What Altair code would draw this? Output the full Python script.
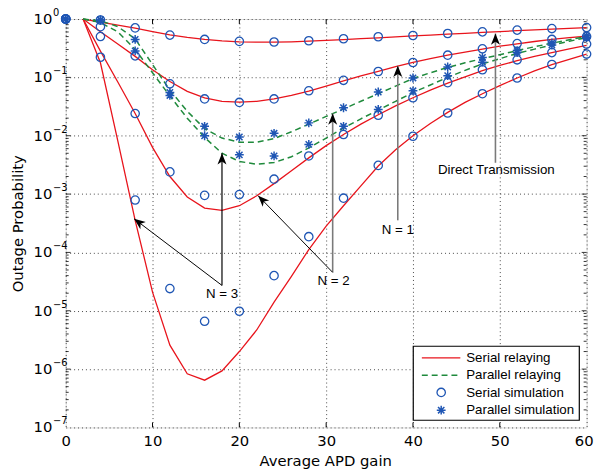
import altair as alt
import pandas as pd

# ---------------- data ----------------
x_line = list(range(2, 61, 2))          # analytic curves
x_sim = list(range(0, 61, 4))           # simulation markers

# serial relaying (analytic)
direct_line = [1, 0.881, 0.785, 0.700, 0.610, 0.537, 0.484, 0.447, 0.422, 0.407,
               0.401, 0.401, 0.407, 0.417, 0.431, 0.445, 0.460, 0.476, 0.494, 0.513,
               0.531, 0.550, 0.569, 0.589, 0.610, 0.631, 0.652, 0.673, 0.692, 0.711]
n1_line = [1, 0.603, 0.372, 0.229, 0.135, 0.0851, 0.0575, 0.0447, 0.0389, 0.0376,
           0.0389, 0.0427, 0.0490, 0.0582, 0.0708, 0.0871, 0.106, 0.127, 0.153, 0.180,
           0.209, 0.240, 0.272, 0.305, 0.343, 0.376, 0.412, 0.447, 0.479, 0.507]
n2_line = [1, 0.282, 0.0832, 0.0240, 6.31e-3, 2.0e-3, 8.91e-4, 5.75e-4, 5.25e-4, 6.31e-4,
           9.33e-4, 1.51e-3, 2.51e-3, 4.17e-3, 6.76e-3, 0.0105, 0.0158, 0.0229, 0.0324, 0.0447,
           0.0603, 0.0794, 0.102, 0.130, 0.160, 0.193, 0.229, 0.266, 0.309, 0.355]
n3_line = [1, 0.178, 8.13e-3, 3.55e-4, 2.09e-5, 2.57e-6, 8.32e-7, 6.46e-7, 9.33e-7, 2.0e-6,
           4.68e-6, 1.41e-5, 3.89e-5, 1.12e-4, 2.82e-4, 6.31e-4, 1.38e-3, 3.02e-3, 5.75e-3, 0.0100,
           0.0162, 0.0251, 0.0372, 0.0525, 0.0724, 0.0977, 0.129, 0.166, 0.204, 0.251]

# parallel relaying (analytic)
par_n2_line = [1, 0.933, 0.741, 0.457, 0.166, 0.0603, 0.0263, 0.0132, 9.12e-3, 7.76e-3,
               7.76e-3, 8.91e-3, 0.0117, 0.0158, 0.0214, 0.0288, 0.0389, 0.0525, 0.0708, 0.0955,
               0.120, 0.148, 0.178, 0.209, 0.245, 0.288, 0.335, 0.385, 0.442, 0.501]
par_n3_line = [1, 0.871, 0.603, 0.302, 0.120, 0.0479, 0.0200, 9.33e-3, 5.01e-3, 3.63e-3,
               3.24e-3, 3.47e-3, 4.37e-3, 6.17e-3, 9.12e-3, 0.0135, 0.0195, 0.0275, 0.0389, 0.0550,
               0.0741, 0.100, 0.132, 0.170, 0.209, 0.257, 0.305, 0.359, 0.417, 0.479]

# serial simulation (circles)
direct_sim = [1, 0.962, 0.705, 0.530, 0.447, 0.414, 0.404, 0.425, 0.459, 0.497,
              0.522, 0.565, 0.603, 0.646, 0.686, 0.713]
n1_sim = [1, 0.741, 0.234, 0.0776, 0.0427, 0.0372, 0.0427, 0.0589, 0.0891, 0.126,
          0.180, 0.240, 0.309, 0.380, 0.447, 0.501]
n2_sim = [1, 0.501, 0.024, 2.4e-3, 9.5e-4, 9.8e-4, 1.8e-3, 4.5e-3, 0.0105, 0.0224,
          0.0447, 0.0813, 0.135, 0.200, 0.266, 0.372]
n3_sim = [1, 0.221, 7.9e-4, 2.4e-5, 6.6e-6, 9.8e-6, 4.0e-5, 1.86e-4, 8.5e-4, 3.1e-3,
          9.8e-3, 0.0245, 0.0525, 0.0977, 0.166, 0.251]

# parallel simulation (stars)
par_n2_sim = [1, 0.962, 0.447, 0.055, 0.0145, 9.5e-3, 0.011, 0.0166, 0.0302, 0.0562,
              0.0977, 0.151, 0.219, 0.288, 0.389, 0.513]
par_n3_sim = [1, 0.962, 0.284, 0.049, 0.010, 4.7e-3, 4.5e-3, 7.1e-3, 0.0145, 0.0282,
              0.0589, 0.107, 0.182, 0.266, 0.359, 0.479]

# axes
x_ticks = [0, 10, 20, 30, 40, 50, 60]
y_ticks = [1, 1e-1, 1e-2, 1e-3, 1e-4, 1e-5, 1e-6, 1e-7]
y_exponents = ["0", "\u22121", "\u22122", "\u22123", "\u22124", "\u22125", "\u22126", "\u22127"]
y_minor = [k * 10.0 ** e for e in range(-7, 0) for k in range(2, 10)]

# annotations: arrow start (x, p) -> tip (x2, p2)
arrow_x = [18.0, 18.0, 30.75, 30.75, 38.25, 49.5]
arrow_p = [2.72e-5, 2.72e-5, 4.55e-5, 4.55e-5, 3.55e-4, 3.44e-3]
arrow_x2 = [18.0, 7.88, 30.75, 22.16, 38.25, 49.5]
arrow_p2 = [5.0e-3, 3.77e-4, 0.0241, 9.4e-4, 0.158, 0.564]
arrow_color = ["#000000", "#000000", "#7a7a7a", "#000000", "#7a7a7a", "#7a7a7a"]
arrow_width = [1.2, 1.0, 1.6, 1.0, 1.6, 1.6]
arrow_angle = [0, 307.25, 0, 315.6, 0, 0]

label_text = ["N = 3", "N = 2", "N = 1", "Direct Transmission"]
label_x = [18.0, 30.86, 38.25, 49.6]
label_p = [1.9e-5, 3.2e-5, 2.4e-4, 2.59e-3]

legend_labels = ["Serial relaying", "Parallel relaying", "Serial simulation", "Parallel simulation"]

# ---------------- styling ----------------
RED = "#e8141c"
GREEN = "#1f8a3c"
BLUE = "#1f56b4"
W, H = 528, 414
STAR = "M0,-1L0,1M-1,0L1,0M-0.72,-0.72L0.72,0.72M-0.72,0.72L0.72,-0.72"
ARROW = "M0,0L0.8,2L0,1.45L-0.8,2Z"

xs = alt.Scale(domain=[0, 60], nice=False, zero=False)
ys = alt.Scale(type="log", domain=[1e-7, 1], nice=False)

x_axis = alt.Axis(values=x_ticks, grid=True, gridDash=[1, 3], gridColor="#333333",
                  gridOpacity=0.9, ticks=False, tickSize=0, domain=False,
                  labelFont="DejaVu Sans", labelFontSize=15, labelColor="black",
                  labelPadding=6, labelFlush=False, labelOverlap=False,
                  labelOffset={"condition": {"test": "datum.value == 60", "value": -3},
                               "value": 0},
                  title="Average APD gain", titleFont="DejaVu Sans", titleFontSize=15,
                  titleFontWeight="normal", titleColor="black",
                  titleX=W / 2 - 1, titleY=34, titleBaseline="middle", titleAlign="center")
y_axis = alt.Axis(values=y_ticks, grid=True, gridDash=[1, 3], gridColor="#333333",
                  gridOpacity=0.9, ticks=False, tickSize=0, domain=False, labels=False,
                  title="Outage Probability", titleFont="DejaVu Sans", titleFontSize=15,
                  titleFontWeight="normal", titleColor="black",
                  titleX=-49, titleY=H / 2, titleAngle=270, titleBaseline="middle",
                  titleAlign="center")


def X(f="x"):
    return alt.X(f, type="quantitative", scale=xs, axis=x_axis)


def Y(f="p"):
    return alt.Y(f, type="quantitative", scale=ys, axis=y_axis)


def long(names, series, xs_):
    rows = []
    for n, vals in zip(names, series):
        for xv, v in zip(xs_, vals):
            rows.append({"x": xv, "p": v, "s": n})
    return pd.DataFrame(rows)


serial_df = long(["D", "1", "2", "3"], [direct_line, n1_line, n2_line, n3_line], x_line)
par_df = long(["2", "3"], [par_n2_line, par_n3_line], x_line)
circ_df = long(["D", "1", "2", "3"], [direct_sim, n1_sim, n2_sim, n3_sim], x_sim)
star_df = long(["2", "3"], [par_n2_sim, par_n3_sim], x_sim)

layers = []

# frame ticks (inside)
xt_df = pd.DataFrame({"x": x_ticks[1:-1]})
for y0, y1 in [(H, H - 5), (0, 5)]:
    layers.append(alt.Chart(xt_df).mark_rule(color="black", strokeWidth=1).encode(
        x=X(), y=alt.value(y0), y2=alt.value(y1)))
yt_df = pd.DataFrame({"p": y_ticks[1:-1]})
ym_df = pd.DataFrame({"p": y_minor})
for df_, ln in [(yt_df, 5), (ym_df, 3)]:
    for x0, x1 in [(0, ln), (W - ln, W)]:
        layers.append(alt.Chart(df_).mark_rule(color="black", strokeWidth=0.8).encode(
            y=Y(), x=alt.value(x0), x2=alt.value(x1)))

# y tick labels "10" + exponent
ylab_df = pd.DataFrame({"p": y_ticks, "e": y_exponents})
layers.append(alt.Chart(ylab_df).mark_text(align="right", baseline="middle",
                                           font="DejaVu Sans", fontSize=15, color="black").encode(
    y=Y(), x=alt.value(-13.5), text=alt.value("10")))
layers.append(alt.Chart(ylab_df).mark_text(align="left", baseline="middle", dy=-6,
                                           font="DejaVu Sans", fontSize=10, color="black").encode(
    y=Y(), x=alt.value(-13), text="e:N"))

# curves
layers.append(alt.Chart(serial_df).mark_line(color=RED, strokeWidth=1.3).encode(
    x=X(), y=Y(), detail="s:N"))
layers.append(alt.Chart(par_df).mark_line(color=GREEN, strokeWidth=1.5, strokeDash=[6, 4]).encode(
    x=X(), y=Y(), detail="s:N"))

# simulation markers
layers.append(alt.Chart(circ_df).mark_point(shape="circle", filled=False, size=72, opacity=1,
                                            strokeWidth=1.3, color=BLUE).encode(x=X(), y=Y()))
layers.append(alt.Chart(star_df).mark_point(shape=STAR, filled=False, size=80, opacity=1,
                                            strokeWidth=1.5, color=BLUE).encode(x=X(), y=Y()))

# annotation arrows
arr_df = pd.DataFrame({"x": arrow_x, "p": arrow_p, "x2": arrow_x2, "p2": arrow_p2,
                       "c": arrow_color, "w": arrow_width, "a": arrow_angle})
layers.append(alt.Chart(arr_df).mark_rule().encode(
    x=X(), y=Y(), x2="x2:Q", y2="p2:Q",
    color=alt.Color("c:N", scale=None), strokeWidth=alt.StrokeWidth("w:Q", scale=None)))
layers.append(alt.Chart(arr_df).mark_point(shape=ARROW, filled=True, size=130, opacity=1,
                                           color="black").encode(
    x=X("x2"), y=Y("p2"), angle=alt.Angle("a:Q", scale=None)))
lab_df = pd.DataFrame({"x": label_x, "p": label_p, "t": label_text})
layers.append(alt.Chart(lab_df).mark_text(align="center", baseline="middle", fontSize=13.5,
                                          font="Liberation Sans", color="black").encode(
    x=X(), y=Y(), text="t:N"))

# legend (drawn inside the plot, lower right)
one = pd.DataFrame({"k": [0]})
layers.append(alt.Chart(one).mark_rect(fill="white", stroke="black", strokeWidth=1.2).encode(
    x=alt.value(352.3), x2=alt.value(520.6), y=alt.value(331.7), y2=alt.value(406.7)))
layers.append(alt.Chart(one).mark_rule(color=RED, strokeWidth=1.3).encode(
    x=alt.value(361), x2=alt.value(400), y=alt.value(343.5)))
layers.append(alt.Chart(one).mark_rule(color=GREEN, strokeWidth=1.5, strokeDash=[6, 4]).encode(
    x=alt.value(361), x2=alt.value(400), y=alt.value(361)))
layers.append(alt.Chart(one).mark_point(shape="circle", filled=False, size=72, opacity=1,
                                        strokeWidth=1.3, color=BLUE).encode(
    x=alt.value(380.6), y=alt.value(378.5)))
layers.append(alt.Chart(one).mark_point(shape=STAR, filled=False, size=80, opacity=1,
                                        strokeWidth=1.5, color=BLUE).encode(
    x=alt.value(380.6), y=alt.value(396.5)))
for lbl, yy in zip(legend_labels, [344, 361.3, 379, 396.7]):
    layers.append(alt.Chart(one).mark_text(align="left", baseline="middle", fontSize=13.5,
                                           font="Liberation Sans", color="black",
                                           text=lbl).encode(
        x=alt.value(406), y=alt.value(yy)))

chart = alt.layer(*layers).properties(
    width=W, height=H,
    autosize=alt.AutoSizeParams(type="none"),
    padding={"left": 58.5, "top": 8, "right": 7.5, "bottom": 44},
    background="white",
).configure_view(stroke="black", strokeWidth=1.2).configure(font="Liberation Sans")

chart.save("out.html", embed_options={"renderer": "svg", "actions": False})
